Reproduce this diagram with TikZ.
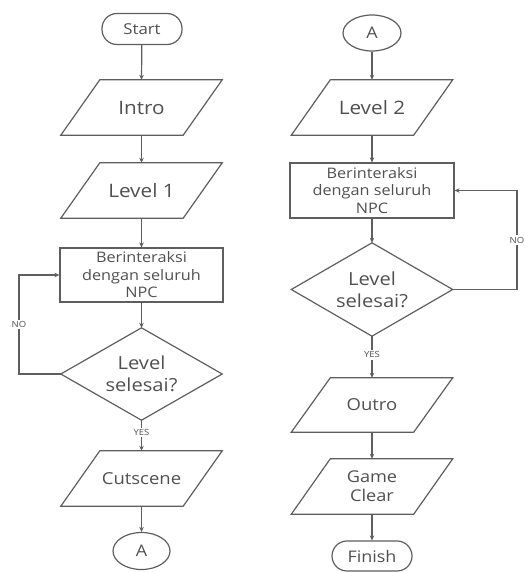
\documentclass[tikz,border=0pt]{standalone}
\usepackage{fontspec}
\setmainfont{Open Sans}[FakeStretch=1.12]
\usetikzlibrary{arrows.meta,shapes.geometric}
\definecolor{linec}{HTML}{5E5E5E}
\definecolor{txtc}{HTML}{505050}
\tikzset{
  base/.style={inner sep=0pt, text=txtc, align=center},
  io/.style={base, minimum width=122pt, minimum height=55pt},
  procbox/.style={base, draw=linec, line width=1.2pt, minimum width=163pt, minimum height=54pt},
  term/.style={base, draw=linec, line width=1.2pt, rounded corners=15pt, minimum width=80pt, minimum height=31pt},
  conn/.style={base, draw=linec, line width=1.2pt, ellipse, minimum width=57pt, minimum height=37pt},
  dec/.style={base, minimum width=161pt, minimum height=92pt},
  shp/.style={draw=linec, line width=1.2pt},
  arr/.style={draw=linec, line width=1.2pt, -{Stealth[length=5pt,width=4.5pt]}},
  lbl/.style={fill=white, text=txtc, inner sep=1.5pt, font=\fontsize{8.5}{9}\selectfont},
}
\newcommand{\parashape}[1]{%
  \draw[shp] ([xshift=19.5pt]#1.north west) -- ([xshift=19.5pt]#1.north east)
    -- ([xshift=-19.5pt]#1.south east) -- ([xshift=-19.5pt]#1.south west) -- cycle;}
\newcommand{\diashape}[1]{%
  \draw[shp] (#1.north) -- (#1.east) -- (#1.south) -- (#1.west) -- cycle;}
\begin{document}
\begin{tikzpicture}[x=1pt,y=-1pt]
\useasboundingbox (0,0) rectangle (524,572);
% left column
\node[term, font=\fontsize{15}{16}\selectfont] (start) at (142,29) {Start};
\node[io, font=\fontsize{18.5}{20}\selectfont] (intro) at (141.5,107.5) {Intro};
\parashape{intro}
\node[io, font=\fontsize{18.5}{20}\selectfont] (lvl1) at (141.5,190.5) {Level 1};
\parashape{lvl1}
\node[procbox, font=\fontsize{14.5}{17.5}\selectfont] (inter1) at (141.5,275) {Berinteraksi\\dengan seluruh\\NPC};
\node[dec, font=\fontsize{18}{21.7}\selectfont] (dec1) at (141.5,374) {Level\\selesai?};
\diashape{dec1}
\node[io, font=\fontsize{16.5}{18}\selectfont] (cut) at (141.5,478.5) {Cutscene};
\parashape{cut}
\node[conn, font=\fontsize{16}{17}\selectfont] (a1) at (141.5,551) {A};
\coordinate (nol) at (19,374);
\coordinate (nolt) at (19,275);
% right column
\node[conn, font=\fontsize{16}{17}\selectfont, minimum width=58pt, minimum height=36pt] (a2) at (372,33) {A};
\node[io, font=\fontsize{18.5}{20}\selectfont] (lvl2) at (372,107.5) {Level 2};
\parashape{lvl2}
\node[procbox, font=\fontsize{14.5}{17.5}\selectfont, minimum width=164pt, minimum height=55pt] (inter2) at (372,190.5) {Berinteraksi\\dengan seluruh\\NPC};
\node[dec, font=\fontsize{18}{21.7}\selectfont, minimum height=93pt] (dec2) at (372,289.5) {Level\\selesai?};
\diashape{dec2}
\node[io, font=\fontsize{16.5}{18}\selectfont, minimum height=54pt] (outro) at (372,405) {Outro};
\parashape{outro}
\node[io, font=\fontsize{16.2}{19.3}\selectfont] (game) at (372,486.5) {Game\\Clear};
\parashape{game}
\node[term, font=\fontsize{16}{17}\selectfont, minimum height=30pt] (finish) at (372,556) {Finish};
\coordinate (nor) at (517,289.5);
\coordinate (nort) at (517,190.5);
% connectors left
\draw[arr] (start) -- (intro.north);
\draw[arr] (intro.south) -- (lvl1.north);
\draw[arr] (lvl1.south) -- (inter1.north);
\draw[arr] (inter1.south) -- (dec1.north);
\draw[arr] (dec1.south) -- node[lbl, pos=0.4] {YES} (cut.north);
\draw[arr] (cut.south) -- (a1.north);
\draw[arr] (dec1.west) -- (nol) -- node[lbl, pos=0.5] {NO} (nolt) -- (inter1.west);
% connectors right
\draw[arr] (a2.south) -- (lvl2.north);
\draw[arr] (lvl2.south) -- (inter2.north);
\draw[arr] (inter2.south) -- (dec2.north);
\draw[arr] (dec2.south) -- node[lbl, pos=0.45] {YES} (outro.north);
\draw[arr] (outro.south) -- (game.north);
\draw[arr] (game.south) -- (finish.north);
\draw[arr] (dec2.east) -- (nor) -- node[lbl, pos=0.5] {NO} (nort) -- (inter2.east);
\end{tikzpicture}
\end{document}
